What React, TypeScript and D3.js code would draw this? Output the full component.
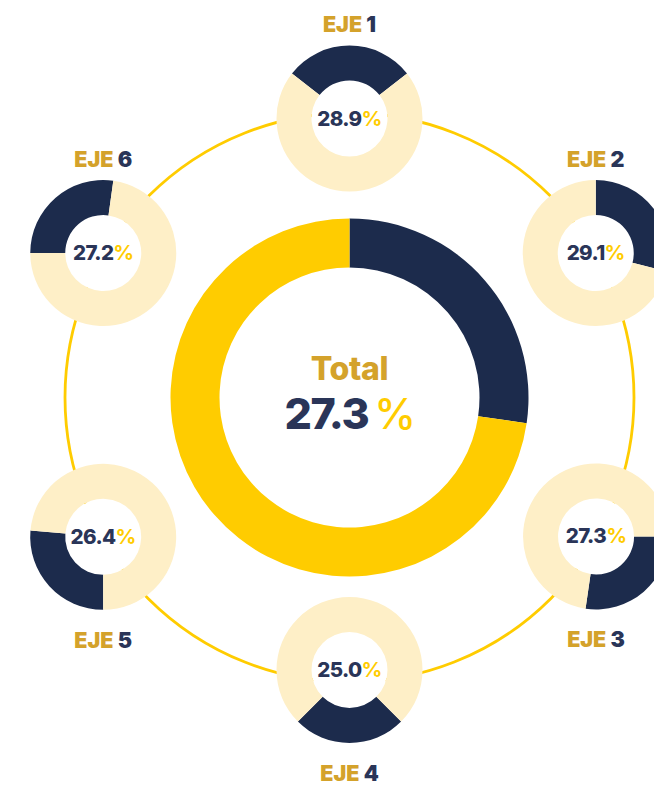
import React from "react";
import * as d3 from "d3";

// ---- data ----
const AXIS_PREFIX = ["EJE", "EJE", "EJE", "EJE", "EJE", "EJE"];
const AXIS_NUMBER = ["1", "2", "3", "4", "5", "6"];
const AXIS_VALUES = [28.9, 29.1, 27.3, 25.0, 26.4, 27.2];
const TOTAL_LABEL = "Total";
const TOTAL_VALUE = 27.3;

// ---- layout (not data) ----
const W = 654;
const H = 787;
const CX = 349.5;
const CY = 397.5;
const RING_R = 284.5;
const BIG_R = 179;
const BIG_r = 130;
const SMALL_R = 73;
const SMALL_r = 38;
const NODE_ANGLE = [0, 59.6, 119.4, 180, 240.5, 300.4];
const NODE_DIST = [279, 285.5, 283, 272.5, 283, 285.5];
const ARC_ANCHOR = ["mid", "start", "start", "mid", "start", "start"];
const ARC_ANGLE = [0, 0, 90, 180, 180, 270];
const LABEL_BELOW = [false, false, true, true, true, false];

const NAVY = "#1c2b4c";
const CREAM = "#feefc7";
const YELLOW = "#ffcc00";
const GOLD = "#d4a22b";
const NAVY_TEXT = "#2a3558";
const FONT = "Inter, 'Noto Sans', sans-serif";

const rad = (deg: number) => (deg * Math.PI) / 180;

function donutPaths(value: number, start: number, r0: number, r1: number) {
  const pie = d3
    .pie<number>()
    .sort(null)
    .value((d) => d)
    .startAngle(start)
    .endAngle(start + 2 * Math.PI);
  const arc = d3.arc<d3.PieArcDatum<number>>().innerRadius(r0).outerRadius(r1);
  return pie([value, 100 - value]).map((a) => arc(a) as string);
}

export default function App() {
  const big = donutPaths(TOTAL_VALUE, 0, BIG_r, BIG_R);
  const fmt = d3.format(".1f");

  return (
    <svg
      width={W}
      height={H}
      style={{ position: "absolute", left: 0, top: 0, background: "#fff" }}
    >
      <circle cx={CX} cy={CY} r={RING_R} fill="none" stroke={YELLOW} strokeWidth={2.8} />

      <g transform={`translate(${CX},${CY})`}>
        <path d={big[0]} fill={NAVY} />
        <path d={big[1]} fill={YELLOW} />
        <text
          x={0}
          y={-17.5}
          textAnchor="middle"
          fontFamily={FONT}
          fontWeight={800}
          fontSize={32}
          fill={GOLD}
          letterSpacing={-0.3}
        >
          {TOTAL_LABEL}
        </text>
        <text
          x={0}
          y={31}
          textAnchor="middle"
          fontFamily={FONT}
          fontWeight={800}
          fontSize={43}
          letterSpacing={-1.5}
        >
          <tspan fill={NAVY_TEXT}>{fmt(TOTAL_VALUE)}</tspan>
          <tspan fill={YELLOW} fontWeight={500} fontSize={42} dx={6}>%</tspan>
        </text>
      </g>

      {AXIS_VALUES.map((v, i) => {
        const a = rad(NODE_ANGLE[i]);
        const x = CX + NODE_DIST[i] * Math.sin(a);
        const y = CY - NODE_DIST[i] * Math.cos(a);
        const span = (v / 100) * 2 * Math.PI;
        const start =
          ARC_ANCHOR[i] === "mid" ? rad(ARC_ANGLE[i]) - span / 2 : rad(ARC_ANGLE[i]);
        const p = donutPaths(v, start, SMALL_r, SMALL_R);
        const ly = LABEL_BELOW[i] ? 111 : -86.5;
        return (
          <g key={i} transform={`translate(${x},${y})`}>
            <circle r={SMALL_r} fill="#fff" />
            <path d={p[0]} fill={NAVY} />
            <path d={p[1]} fill={CREAM} />
            <text
              x={0}
              y={7}
              textAnchor="middle"
              fontFamily={FONT}
              fontWeight={800}
              fontSize={20.5}
              letterSpacing={-0.6}
            >
              <tspan fill={NAVY_TEXT}>{fmt(v)}</tspan>
              <tspan fill={YELLOW} fontWeight={700}>%</tspan>
            </text>
            <text
              x={0}
              y={ly}
              textAnchor="middle"
              fontFamily={FONT}
              fontWeight={900}
              fontSize={21.5}
            >
              <tspan fill={GOLD}>{AXIS_PREFIX[i]}</tspan>
              <tspan fill={NAVY_TEXT}>{" " + AXIS_NUMBER[i]}</tspan>
            </text>
          </g>
        );
      })}
    </svg>
  );
}
